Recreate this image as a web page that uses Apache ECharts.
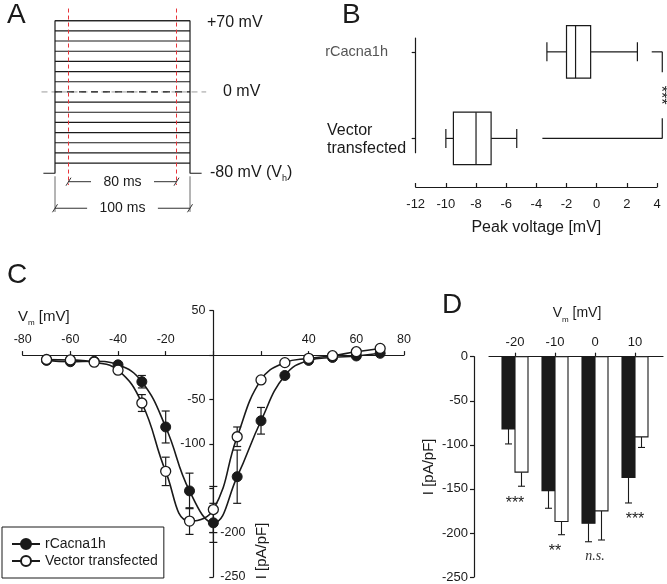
<!DOCTYPE html>
<html>
<head>
<meta charset="utf-8">
<script src="https://cdn.jsdelivr.net/npm/echarts@6/dist/echarts.min.js"></script>
<style>
  html, body { margin: 0; padding: 0; background: #fff; }
  #fig { width: 667px; height: 584px; }
</style>
</head>
<body>
<div id="fig"></div>
<script>
// A: voltage step protocol
var holdingV = -80;
var stepLevels = [-70, -60, -50, -40, -30, -20, -10, 0, 10, 20, 30, 40, 50, 60, 70];
var pulseStart = 0, pulseEnd = 100;      // ms
var windowStart = 10, windowEnd = 90;    // ms
var scaleBars = [
  { from: windowStart, to: windowEnd, label: '80 ms' },
  { from: pulseStart, to: pulseEnd, label: '100 ms' }
];

// B: peak voltage, [min, q1, median, q3, max]
var boxGroups = ['Vector transfected', 'rCacna1h'];
var vectorBox = [-10.0, -9.5, -8.0, -7.0, -5.3];
var rCacnaBox = [-3.3, -2.0, -1.4, -0.4, 2.7];

// C: I-V relation
var vmC = [-70, -60, -50, -40, -30, -20, -10, 0, 10, 20, 30, 40, 50, 60, 70];
var ivCacna = [-6, -7.5, -7, -11, -30, -81, -153, -189, -137, -74, -23, -6, -2.7, -1, 2];
var errCacna = [1, 1, 1, 3, 7, 18, 20, 22, 30, 15, 3, 2, 1, 1, 1];
var ivVector = [-5, -5.5, -8, -17, -54, -131, -187, -174, -92, -28, -8.5, -3.7, -0.7, 3.8, 7.5];
var errVector = [1, 1, 1, 3, 9.5, 16, 15, 26, 11, 3, 2, 1, 1, 1, 1];

// D: currents at selected potentials
var vmD = [-20, -10, 0, 10];
var barCacna = [-82, -152, -189, -137];
var barCacnaErr = [17, 20, 21, 29];
var barVector = [-131, -187, -175, -91];
var barVectorErr = [16, 15, 33, 12];
var sigD = ['***', '**', 'n.s.', '***'];

var FONT = '"Liberation Sans", Arial, sans-serif';
var INK = '#1a1a1a';

var chart = echarts.init(document.getElementById('fig'));

function seg(a, b, style) {
  return { type: 'line', shape: { x1: a[0], y1: a[1], x2: b[0], y2: b[1] }, style: style };
}
function txt(x, y, text, size, extra) {
  var st = { text: text, font: size + 'px ' + FONT, fill: INK, align: 'left', verticalAlign: 'middle',
    textAlign: 'left', textVerticalAlign: 'middle' };
  for (var k in extra) st[k] = extra[k];
  if (extra && extra.align) st.textAlign = extra.align;
  return { type: 'text', x: x, y: y, style: st, z: 50 };
}
function subRich(size) {
  return {
    n: { fontSize: size, lineHeight: size + 3, verticalAlign: 'top', fontFamily: FONT, fill: INK },
    s: { fontSize: Math.round(size * 0.55), lineHeight: 9, verticalAlign: 'bottom', fontFamily: FONT, fill: INK }
  };
}

var thin = { stroke: INK, lineWidth: 1.2 };

var option = {
  animation: false,
  textStyle: { fontFamily: FONT, color: INK },
  grid: [
    { left: 28, top: 0.4, width: 229.5, height: 223.7 },
    { left: 415.7, top: 38, width: 241.3, height: 114.7 },
    { left: 22.7, top: 310.7, width: 381.3, height: 266.3 },
    { left: 489, top: 356.7, width: 174, height: 220.3 }
  ],
  xAxis: [
    { gridIndex: 0, type: 'value', min: -20, max: 150, show: false },
    {
      gridIndex: 1, type: 'value', min: -12, max: 4, interval: 2, position: 'bottom', offset: 34.3,
      axisLine: { onZero: false, lineStyle: { color: INK, width: 1.2 } },
      axisTick: { inside: true, length: 4, lineStyle: { color: INK, width: 1.2 } },
      axisLabel: { fontSize: 13, color: INK, margin: 11 },
      splitLine: { show: false },
      name: 'Peak voltage [mV]', nameLocation: 'middle', nameGap: 33,
      nameTextStyle: { fontSize: 16, color: INK }
    },
    {
      // crosses the current axis at 0 pA/pF
      gridIndex: 2, type: 'value', min: -80, max: 80, interval: 20, position: 'top', offset: -44.38,
      axisLine: { onZero: false, lineStyle: { color: INK, width: 1.2 } },
      axisTick: { length: 4, lineStyle: { color: INK, width: 1.2 } },
      axisLabel: {
        fontSize: 12.5, color: INK, margin: 9,
        formatter: function (v) { return (v === 0 || v === 20) ? '' : String(v); }
      },
      splitLine: { show: false }
    },
    {
      gridIndex: 3, type: 'value', min: -26.5, max: 17, position: 'top',
      axisLine: { onZero: false, lineStyle: { color: INK, width: 1.2 } },
      axisTick: { customValues: vmD, length: 4, lineStyle: { color: INK, width: 1.2 } },
      axisLabel: { customValues: vmD, fontSize: 13, color: INK, margin: 8 },
      splitLine: { show: false }
    }
  ],
  yAxis: [
    { gridIndex: 0, type: 'value', min: -130, max: 90, show: false },
    {
      gridIndex: 1, type: 'value', min: -0.165, max: 1.16,
      axisLine: { show: true, onZero: false, lineStyle: { color: INK, width: 1.2 } },
      axisTick: { show: true, customValues: [0, 1], length: 4, lineStyle: { color: INK, width: 1.2 } },
      axisLabel: { show: false },
      splitLine: { show: false }
    },
    {
      // crosses the voltage axis at 0 mV
      gridIndex: 2, type: 'value', min: -250, max: 50, interval: 50, position: 'left', offset: -190.65,
      axisLine: { show: true, onZero: false, lineStyle: { color: INK, width: 1.2 } },
      axisTick: { show: true, length: 4, lineStyle: { color: INK, width: 1.2 } },
      axisLabel: {
        fontSize: 12.5, color: INK, margin: 8,
        formatter: function (v) { return (v === 50 || v === -50 || v === -100) ? String(v) : ''; }
      },
      splitLine: { show: false }
    },
    {
      gridIndex: 2, type: 'value', min: -250, max: 50, interval: 50, position: 'left', offset: -190.65,
      axisLine: { show: false, onZero: false },
      axisTick: { show: false },
      axisLabel: {
        inside: true, fontSize: 12.5, color: INK, margin: 7,
        formatter: function (v) { return (v === -200 || v === -250) ? String(v) : ''; }
      },
      splitLine: { show: false }
    },
    {
      gridIndex: 3, type: 'value', min: -250, max: 0, interval: 50, offset: 15,
      axisLine: { show: true, onZero: false, lineStyle: { color: INK, width: 1.2 } },
      axisTick: { show: true, length: 4, lineStyle: { color: INK, width: 1.2 } },
      axisLabel: { fontSize: 13, color: INK, margin: 6 },
      splitLine: { show: false },
      name: 'I [pA/pF]', nameLocation: 'middle', nameRotate: 90, nameGap: 38,
      nameTextStyle: { fontSize: 15, color: INK }
    }
  ],
  legend: {
    data: ['rCacna1h', 'Vector transfected'],
    orient: 'vertical', left: 2, top: 527,
    itemWidth: 28, itemHeight: 12.5, itemGap: 3,
    padding: [10, 6, 10, 9],
    borderColor: INK, borderWidth: 1, backgroundColor: '#fff',
    textStyle: { fontSize: 14, color: INK }
  },
  series: [
    // ---------- A ----------
    {
      type: 'line', xAxisIndex: 0, yAxisIndex: 0, silent: true, symbol: 'none', z: 1,
      data: [[pulseStart - 10, 0], [pulseEnd + 12, 0]],
      lineStyle: { color: '#c6c6c6', width: 1.6, type: [6, 4] }
    },
    {
      type: 'custom', xAxisIndex: 0, yAxisIndex: 0, silent: true, z: 3,
      data: stepLevels.map(function (v) { return [pulseStart, v, pulseEnd]; }),
      encode: { x: [0, 2], y: 1 },
      renderItem: function (params, api) {
        var v = api.value(1);
        var a = api.coord([api.value(0), v]), b = api.coord([api.value(2), v]);
        return seg(a, b, { stroke: INK, lineWidth: 1.1, lineDash: v === 0 ? [7, 5] : null });
      }
    },
    {
      type: 'line', xAxisIndex: 0, yAxisIndex: 0, silent: true, symbol: 'none', z: 3,
      data: [
        [pulseStart - 8.6, holdingV], [pulseStart, holdingV], [pulseStart, stepLevels[stepLevels.length - 1]],
        [pulseEnd, stepLevels[stepLevels.length - 1]], [pulseEnd, holdingV], [pulseEnd + 8.6, holdingV]
      ],
      lineStyle: { color: INK, width: 1.2 }
    },
    {
      type: 'custom', xAxisIndex: 0, yAxisIndex: 0, silent: true, z: 4,
      data: [[windowStart, 0], [windowEnd, 0]],
      renderItem: function (params, api) {
        var t = api.value(0);
        return seg(api.coord([t, 82]), api.coord([t, -91.5]), { stroke: '#e8343a', lineWidth: 1, lineDash: [4, 3] });
      }
    },
    {
      type: 'custom', xAxisIndex: 0, yAxisIndex: 0, silent: true, z: 4,
      data: scaleBars.map(function (b) { return [b.from, b.to]; }),
      renderItem: function (params, api) {
        var bar = scaleBars[params.dataIndex];
        var rowY = [-88.3, -114.4][params.dataIndex];
        var a = api.coord([bar.from, rowY]), b = api.coord([bar.to, rowY]);
        var mid = (a[0] + b[0]) / 2, half = bar.label.length * 3.9 + 12;
        var st = { stroke: INK, lineWidth: 0.9 };
        var kids = [
          seg(a, [mid - half, a[1]], st), seg([mid + half, b[1]], b, st),
          seg([a[0] - 2.5, a[1] + 4], [a[0] + 2.5, a[1] - 4], st),
          seg([b[0] - 2.5, b[1] + 4], [b[0] + 2.5, b[1] - 4], st),
          txt(mid, a[1], bar.label, 14, { align: 'center' })
        ];
        if (params.dataIndex === 1) {
          kids.push(seg(api.coord([bar.from, -83]), api.coord([bar.from, -118]), { stroke: '#444', lineWidth: 0.8 }));
          kids.push(seg(api.coord([bar.to, -83]), api.coord([bar.to, -118]), { stroke: '#444', lineWidth: 0.8 }));
        }
        return { type: 'group', children: kids };
      }
    },
    // ---------- B ----------
    {
      type: 'custom', xAxisIndex: 1, yAxisIndex: 1, silent: true, z: 3,
      data: [[0].concat(vectorBox), [1].concat(rCacnaBox)],
      encode: { x: [1, 2, 3, 4, 5], y: 0 },
      renderItem: function (params, api) {
        var yi = api.value(0);
        var p = [1, 2, 3, 4, 5].map(function (d) { return api.coord([api.value(d), yi]); });
        var y = p[2][1], h = 26.2, cap = 9.5;
        return {
          type: 'group', children: [
            seg([p[0][0], y], [p[1][0], y], thin),
            seg([p[3][0], y], [p[4][0], y], thin),
            seg([p[0][0], y - cap], [p[0][0], y + cap], thin),
            seg([p[4][0], y - cap], [p[4][0], y + cap], thin),
            { type: 'rect', shape: { x: p[1][0], y: y - h, width: p[3][0] - p[1][0], height: 2 * h },
              style: { fill: '#fff', stroke: INK, lineWidth: 1.2 } },
            seg([p[2][0], y - h], [p[2][0], y + h], thin)
          ]
        };
      }
    },
    {
      type: 'custom', xAxisIndex: 1, yAxisIndex: 1, silent: true, z: 3,
      data: [[0, 0]],
      renderItem: function (params, api) {
        var top = api.coord([3.65, 1]), corner = api.coord([4.35, 1]);
        var bottom = api.coord([4.35, 0]), left = api.coord([-3.6, 0]);
        var midY = (corner[1] + bottom[1]) / 2;
        return {
          type: 'group', children: [
            seg(top, corner, thin),
            seg(corner, [corner[0], midY - 23], thin),
            seg([corner[0], midY + 23], bottom, thin),
            seg(left, bottom, thin),
            { type: 'text', x: corner[0] - 2, y: midY, rotation: -Math.PI / 2,
              style: { text: '***', font: '16px ' + FONT, fill: INK, align: 'center', verticalAlign: 'middle',
                textAlign: 'center', textVerticalAlign: 'middle' } }
          ]
        };
      }
    },
    // ---------- C ----------
    {
      type: 'custom', xAxisIndex: 2, yAxisIndex: 2, silent: true, z: 1,
      data: vmC.map(function (v, i) { return [v, ivCacna[i], errCacna[i]]; })
        .concat(vmC.map(function (v, i) { return [v, ivVector[i], errVector[i]]; })),
      encode: { x: 0, y: 1 },
      renderItem: function (params, api) {
        var x = api.value(0), y = api.value(1), e = api.value(2);
        var a = api.coord([x, y + e]), b = api.coord([x, y - e]);
        return {
          type: 'group', children: [
            seg(a, b, thin),
            seg([a[0] - 4, a[1]], [a[0] + 4, a[1]], thin),
            seg([b[0] - 4, b[1]], [b[0] + 4, b[1]], thin)
          ]
        };
      }
    },
    {
      type: 'line', name: 'rCacna1h', xAxisIndex: 2, yAxisIndex: 2, z: 2,
      data: vmC.map(function (v, i) { return [v, ivCacna[i]]; }),
      smooth: 0.45, symbol: 'circle', symbolSize: 10,
      lineStyle: { color: INK, width: 1.6 },
      itemStyle: { color: INK, borderColor: INK, borderWidth: 1 }
    },
    {
      type: 'line', name: 'Vector transfected', xAxisIndex: 2, yAxisIndex: 2, z: 3,
      data: vmC.map(function (v, i) { return [v, ivVector[i]]; }),
      smooth: 0.45, symbol: 'circle', symbolSize: 10,
      lineStyle: { color: INK, width: 1.6 },
      itemStyle: { color: '#fff', borderColor: INK, borderWidth: 1.3 }
    },
    // ---------- D ----------
    {
      type: 'custom', xAxisIndex: 3, yAxisIndex: 4, silent: true, z: 3,
      data: vmD.map(function (v, i) { return [v, barCacna[i], barCacnaErr[i], -1]; })
        .concat(vmD.map(function (v, i) { return [v, barVector[i], barVectorErr[i], 1]; })),
      encode: { x: 0, y: 1 },
      renderItem: function (params, api) {
        var x = api.value(0), v = api.value(1), e = api.value(2), side = api.value(3);
        var p0 = api.coord([x, 0]), p1 = api.coord([x, v]), p2 = api.coord([x, v - e]);
        var w = 13, x0 = side < 0 ? p0[0] - w : p0[0], cx = x0 + w / 2;
        var st = { stroke: INK, lineWidth: 1.1 };
        return {
          type: 'group', children: [
            seg([cx, p1[1]], [cx, p2[1]], st),
            seg([cx - 3.5, p2[1]], [cx + 3.5, p2[1]], st),
            { type: 'rect', shape: { x: x0, y: p0[1], width: w, height: p1[1] - p0[1] },
              style: { fill: side < 0 ? INK : '#fff', stroke: INK, lineWidth: 1.1 } }
          ]
        };
      }
    },
    {
      type: 'custom', xAxisIndex: 3, yAxisIndex: 4, silent: true, z: 4,
      data: vmD.map(function (v, i) {
        return [v, Math.min(barCacna[i] - barCacnaErr[i], barVector[i] - barVectorErr[i])];
      }),
      encode: { x: 0, y: 1 },
      renderItem: function (params, api) {
        var p = api.coord([api.value(0), api.value(1)]);
        var s = sigD[params.dataIndex];
        if (s === 'n.s.') {
          return txt(p[0], p[1] + 15, s, 14, { align: 'center', font: 'italic 14px "Liberation Serif", serif', fill: '#333' });
        }
        return txt(p[0], p[1] + 17, s, 16, { align: 'center' });
      }
    }
  ],
  graphic: [
    txt(7, 15, 'A', 28), txt(342, 15, 'B', 28), txt(7, 275, 'C', 28), txt(442, 305, 'D', 28),
    txt(207, 22.5, '+70 mV', 16),
    txt(223, 92, '0 mV', 16),
    txt(210, 174, '{n|-80 mV (V}{s|h}{n|)}', 16, { rich: subRich(16) }),
    txt(388, 51.7, 'rCacna1h', 14.5, { align: 'right', fill: '#555' }),
    txt(327, 139.7, 'Vector\ntransfected', 16, { lineHeight: 17.3 }),
    txt(18, 318, '{n|V}{s|m}{n| [mV]}', 15, { rich: subRich(15) }),
    { type: 'text', x: 262, y: 551, rotation: Math.PI / 2, z: 50,
      style: { text: 'I [pA/pF]', font: '15px ' + FONT, fill: INK, align: 'center', verticalAlign: 'middle',
        textAlign: 'center', textVerticalAlign: 'middle' } },
    txt(577, 315, '{n|V}{s|m}{n| [mV]}', 14, { align: 'center', rich: subRich(14) })
  ]
};

chart.setOption(option);
</script>
</body>
</html>
